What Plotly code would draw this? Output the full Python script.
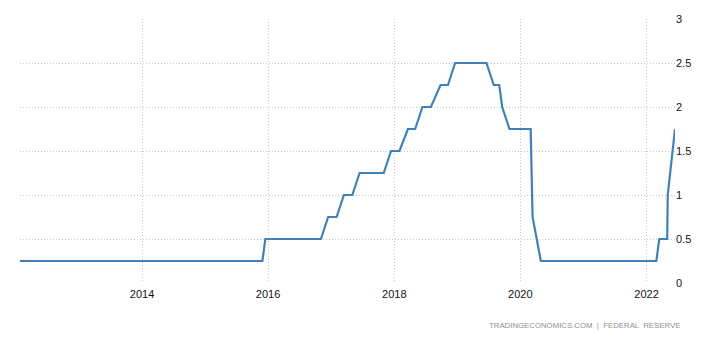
import plotly.graph_objects as go

dates = [
    "2012-01-25", "2015-11-29", "2015-12-16", "2016-11-02", "2016-12-14",
    "2017-02-01", "2017-03-15", "2017-05-03", "2017-06-14", "2017-11-01",
    "2017-12-13", "2018-01-31", "2018-03-21", "2018-05-02", "2018-06-13",
    "2018-08-01", "2018-09-26", "2018-11-08", "2018-12-19", "2019-06-19",
    "2019-07-31", "2019-09-01", "2019-09-18", "2019-10-30", "2020-03-01",
    "2020-03-12", "2020-04-29", "2022-02-27", "2022-03-16", "2022-05-01",
    "2022-05-04", "2022-06-15",
]
rates = [
    0.25, 0.25, 0.50, 0.50, 0.75,
    0.75, 1.00, 1.00, 1.25, 1.25,
    1.50, 1.50, 1.75, 1.75, 2.00,
    2.00, 2.25, 2.25, 2.50, 2.50,
    2.25, 2.25, 2.00, 1.75, 1.75,
    0.75, 0.25, 0.25, 0.50, 0.50,
    1.00, 1.75,
]
y_ticks = [0, 0.5, 1, 1.5, 2, 2.5, 3]
y_labels = ["0", "0.5", "1", "1.5", "2", "2.5", "3"]
source_text = "TRADINGECONOMICS.COM  |  FEDERAL  RESERVE"

fig = go.Figure()
fig.add_trace(go.Scatter(
    x=dates, y=rates, mode="lines",
    line=dict(color="#4180BA", width=2.2),
    hoverinfo="x+y",
))

grid = dict(showgrid=True, gridcolor="#c9c9c9", gridwidth=1, griddash="1px,2px",
            zeroline=False, showline=False, ticks="")

fig.update_layout(
    width=718, height=337,
    margin=dict(l=20, r=43, t=19, b=54),
    paper_bgcolor="white", plot_bgcolor="white",
    showlegend=False,
    font=dict(family="Liberation Sans, Arial, sans-serif", size=11, color="#111"),
    xaxis=dict(**grid, type="date", tickformat="%Y", dtick="M24",
               tick0="2014-01-01", ticklabelstandoff=3,
               tickfont=dict(size=11, color="#111")),
    yaxis=dict(**grid, side="right", range=[0, 3], tickvals=y_ticks,
               ticktext=y_labels, tickfont=dict(size=11, color="#111")),
    annotations=[dict(
        text=source_text, xref="paper", yref="paper", x=1.011, y=-0.16,
        xanchor="right", yanchor="middle", showarrow=False,
        font=dict(size=7.8, color="#8f8f8f", family="Liberation Sans, Arial, sans-serif"),
    )],
)

fig.write_html("out.html")
